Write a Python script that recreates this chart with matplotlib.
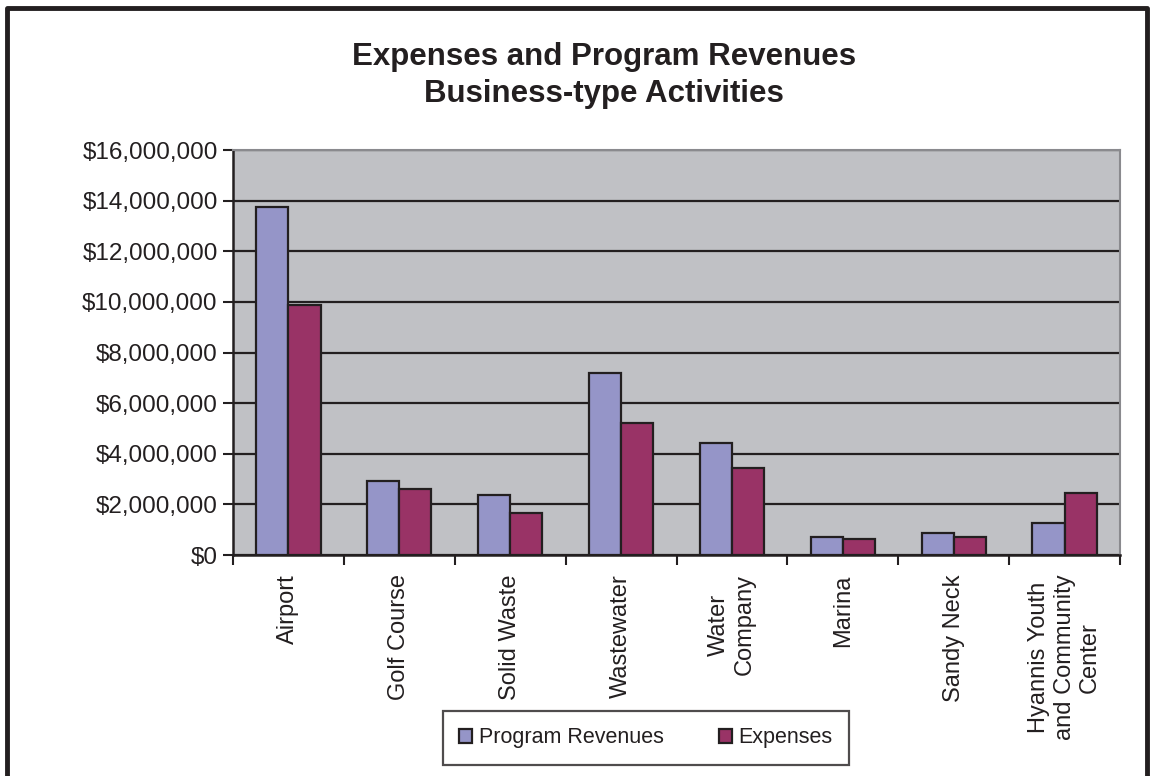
import numpy as np
import matplotlib
matplotlib.use("Agg")
import matplotlib.pyplot as plt
from matplotlib.ticker import FuncFormatter

plt.rcParams["font.family"] = ["Liberation Sans", "DejaVu Sans"]

categories = ["Airport", "Golf Course", "Solid Waste", "Wastewater",
              "Water\nCompany", "Marina", "Sandy Neck",
              "Hyannis Youth\nand Community\nCenter"]
program_revenues = [13760000, 2940000, 2370000, 7200000,
                    4440000, 720000, 880000, 1280000]
expenses = [9880000, 2620000, 1670000, 5230000,
            3420000, 630000, 720000, 2460000]
yticks = np.arange(0, 16000001, 2000000)

ink = "#231F20"

fig = plt.figure(figsize=(11.51, 7.76), dpi=100)
ax = fig.add_axes([233 / 1151, 1 - 555 / 776, 887 / 1151, 405 / 776])

x = np.arange(len(categories))
w = 0.29
ax.bar(x - w / 2, program_revenues, w, color="#9595C8", edgecolor=ink,
       lw=1.6, label="Program Revenues", zorder=3)
ax.bar(x + w / 2, expenses, w, color="#993366", edgecolor=ink,
       lw=1.6, label="Expenses", zorder=3)

ax.set_facecolor("#C0C1C5")
ax.set_xlim(-0.5, len(categories) - 0.5)
ax.set_ylim(0, 16000000)
ax.set_yticks(yticks)
ax.yaxis.set_major_formatter(FuncFormatter(lambda v, p: f"${v:,.0f}"))
ax.yaxis.grid(True, color=ink, lw=1.6, zorder=1)
ax.tick_params(axis="y", labelsize=17.5, length=7, width=1.5, pad=4,
               colors=ink)

# category boundary ticks below, labels between them
ax.set_xticks(np.arange(len(categories) + 1) - 0.5)
ax.set_xticklabels([])
ax.set_xticks(x, minor=True)
ax.set_xticklabels(categories, minor=True, rotation=90, fontsize=17,
                   ha="center", va="top", multialignment="center",
                   color=ink)
ax.tick_params(axis="x", which="major", length=7, width=1.5, color=ink)
ax.tick_params(axis="x", which="minor", length=0, pad=14)

for s in ("left", "bottom"):
    ax.spines[s].set_color(ink)
    ax.spines[s].set_linewidth(1.8)
for s in ("top", "right"):
    ax.spines[s].set_color("#8A8A8E")
    ax.spines[s].set_linewidth(1.5)

fig.text(0.525, 1 - 57 / 776, "Expenses and Program Revenues",
         ha="center", va="center", fontsize=22.5, fontweight="bold",
         color=ink)
fig.text(0.525, 1 - 94 / 776, "Business-type Activities",
         ha="center", va="center", fontsize=22.5, fontweight="bold",
         color=ink)

leg = fig.legend(loc="center", bbox_to_anchor=(646 / 1151, 1 - 738 / 776),
                 ncol=2, fontsize=15.5, frameon=True, fancybox=False,
                 edgecolor=ink, handlelength=0.6, handleheight=0.6,
                 handletextpad=0.3, columnspacing=2.6, borderpad=0.75,
                 borderaxespad=0)
leg.get_frame().set_linewidth(1.6)
for t in leg.get_texts():
    t.set_color(ink)

# outer chart frame (open at the bottom)
fig.add_artist(plt.Line2D([7 / 1151, 7 / 1151, 1147 / 1151, 1147 / 1151],
                          [0, 1 - 8 / 776, 1 - 8 / 776, 0],
                          color=ink, lw=3.5, transform=fig.transFigure))

fig.savefig("out.png", dpi=100)
